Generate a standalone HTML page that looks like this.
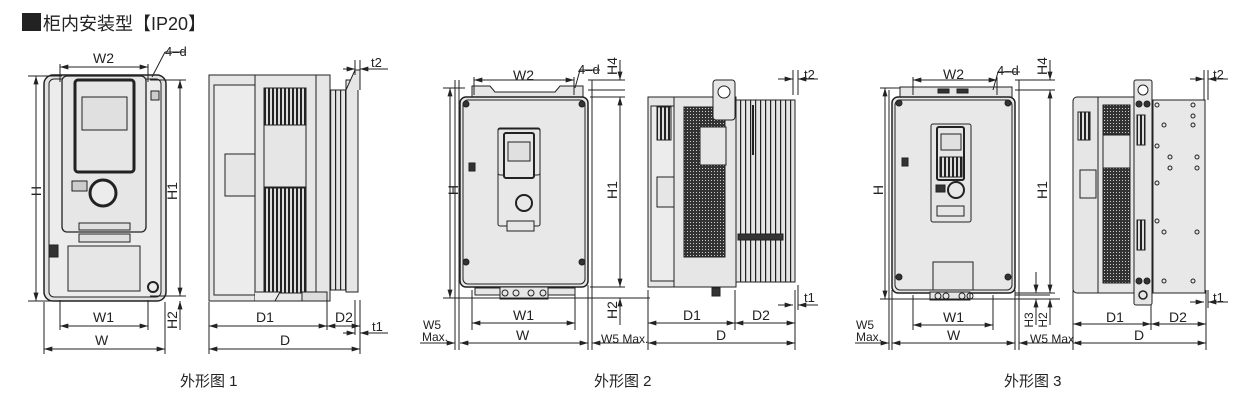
<!DOCTYPE html>
<html><head><meta charset="utf-8"><style>
html,body{margin:0;padding:0;background:#fff;width:1241px;height:406px;overflow:hidden}
svg{display:block}
text{font-family:"Liberation Sans","Noto Sans CJK SC",sans-serif;fill:#222}
</style></head><body>
<svg width="1241" height="406" viewBox="0 0 1241 406" xmlns="http://www.w3.org/2000/svg">
<defs>
<marker id="a" viewBox="0 0 10 6" refX="10" refY="3" markerWidth="9" markerHeight="5" orient="auto-start-reverse" markerUnits="userSpaceOnUse"><path d="M0,0L10,3L0,6z" fill="#222"/></marker>
<pattern id="g1" width="4" height="4" patternUnits="userSpaceOnUse"><rect width="4" height="4" fill="#ddd"/><rect width="2" height="4" fill="#222"/></pattern>
<pattern id="g2" width="3" height="3" patternUnits="userSpaceOnUse"><rect width="3" height="3" fill="#333"/><rect width="1" height="1" fill="#ccc"/></pattern>
<pattern id="fin" width="5" height="5" patternUnits="userSpaceOnUse"><rect width="5" height="5" fill="#e6e6e6"/><rect width="1.2" height="5" fill="#222"/></pattern>
</defs>
<g stroke="#222" stroke-width="1" fill="none">
<!-- ===== Fig1 front ===== -->
<rect x="44" y="75" width="122" height="226" rx="9" fill="#e3e3e3" stroke-width="1.5"/>
<rect x="49" y="79" width="112" height="218" rx="5" fill="#ececec"/>
<rect x="62" y="76" width="84" height="156" rx="5" fill="#e6e6e6" stroke-width="1.3"/>
<rect x="75" y="80" width="59" height="92" rx="3" fill="#e6e6e6" stroke-width="3"/>
<rect x="82" y="97" width="45" height="33" fill="#e0e0e0"/>
<circle cx="103" cy="193" r="13" stroke-width="3" fill="#ececec"/>
<rect x="72" y="181" width="15" height="10" fill="#ccc"/>
<rect x="79" y="223" width="51" height="7" fill="#e0e0e0"/>
<rect x="79" y="234" width="51" height="8" fill="#e0e0e0"/>
<rect x="68" y="246" width="72" height="45" fill="#e6e6e6"/>
<rect x="151" y="91" width="8" height="9" fill="#ccc"/>
<rect x="49" y="245" width="9" height="12" fill="#333"/>
<circle cx="153" cy="287" r="5" stroke-width="2"/>
<!-- fig1 dims -->
<line x1="60" y1="64" x2="60" y2="82"/><line x1="148" y1="64" x2="148" y2="82"/>
<line x1="60" y1="67" x2="148" y2="67" marker-start="url(#a)" marker-end="url(#a)"/>
<line x1="28" y1="76" x2="62" y2="76"/><line x1="28" y1="301" x2="62" y2="301"/>
<line x1="36" y1="76" x2="36" y2="301" marker-start="url(#a)" marker-end="url(#a)"/>
<line x1="150" y1="80" x2="186" y2="80"/><line x1="150" y1="296" x2="186" y2="296"/>
<line x1="180" y1="80" x2="180" y2="296" marker-start="url(#a)" marker-end="url(#a)"/>
<line x1="180" y1="301" x2="180" y2="330"/><line x1="180" y1="318" x2="180" y2="301" marker-end="url(#a)"/>
<line x1="60" y1="300" x2="60" y2="330"/><line x1="148" y1="300" x2="148" y2="330"/>
<line x1="60" y1="326" x2="148" y2="326" marker-start="url(#a)" marker-end="url(#a)"/>
<line x1="44" y1="302" x2="44" y2="354"/><line x1="165" y1="302" x2="165" y2="354"/>
<line x1="44" y1="349" x2="165" y2="349" marker-start="url(#a)" marker-end="url(#a)"/>
<line x1="152" y1="77" x2="165" y2="52"/><line x1="165" y1="52" x2="185" y2="52"/>
<!-- ===== Fig1 side ===== -->
<rect x="209" y="75" width="48" height="226" fill="#e6e6e6"/>
<rect x="214" y="85" width="43" height="210" fill="#ececec"/>
<rect x="255" y="75" width="62" height="226" fill="#e6e6e6"/>
<rect x="264" y="88" width="42" height="150" fill="url(#g1)"/>
<rect x="264" y="188" width="42" height="105" fill="url(#g1)"/>
<rect x="264" y="125" width="42" height="62" fill="#e6e6e6"/>
<rect x="225" y="154" width="30" height="42" fill="#e6e6e6"/>
<rect x="316" y="75" width="14" height="226" fill="#e6e6e6"/>
<rect x="330" y="90" width="18" height="200" fill="url(#fin)"/>
<rect x="346" y="80" width="12" height="212" fill="#e6e6e6"/>
<path d="M346,90 L355,70 L360,70 L360,90" fill="#e6e6e6"/>
<path d="M255,292 L280,292 L275,301 L255,301" fill="#ececec"/>
<rect x="302" y="292" width="25" height="9" fill="#ddd"/>
<line x1="209" y1="302" x2="209" y2="354"/><line x1="327" y1="300" x2="327" y2="330"/><line x1="360" y1="300" x2="360" y2="354"/>
<line x1="209" y1="326" x2="327" y2="326" marker-start="url(#a)" marker-end="url(#a)"/>
<line x1="327" y1="326" x2="360" y2="326" marker-start="url(#a)" marker-end="url(#a)"/>
<line x1="209" y1="349" x2="360" y2="349" marker-start="url(#a)" marker-end="url(#a)"/>
<line x1="355" y1="60" x2="355" y2="75"/><line x1="360" y1="60" x2="360" y2="75"/>
<line x1="343" y1="69" x2="355" y2="69" marker-end="url(#a)"/><line x1="388" y1="69" x2="360" y2="69" marker-end="url(#a)"/>
<line x1="355" y1="300" x2="355" y2="335"/><line x1="360" y1="300" x2="360" y2="335"/>
<line x1="343" y1="333" x2="355" y2="333" marker-end="url(#a)"/><line x1="388" y1="333" x2="360" y2="333" marker-end="url(#a)"/>

<!-- ===== Fig2 front ===== -->
<path d="M472,97 L472,86 L490,86 L495,92 L555,92 L560,86 L583,86 L583,97" fill="#e6e6e6"/>
<rect x="460" y="97" width="128" height="190" rx="6" fill="#e6e6e6" stroke-width="1.5"/>
<rect x="463" y="100" width="122" height="184" rx="5" fill="#e8e8e8"/>
<circle cx="466" cy="104" r="3" fill="#333"/><circle cx="582" cy="104" r="3" fill="#333"/>
<circle cx="466" cy="262" r="3" fill="#333"/><circle cx="582" cy="262" r="3" fill="#333"/>
<rect x="498" y="129" width="42" height="46" rx="2" fill="#e6e6e6"/>
<rect x="504" y="133" width="30" height="45" rx="2" fill="#e6e6e6" stroke-width="2"/>
<rect x="508" y="142" width="22" height="19" fill="#e0e0e0"/>
<circle cx="524" cy="203" r="8" stroke-width="2"/>
<rect x="498" y="128" width="42" height="98" rx="2"/>
<rect x="507" y="221" width="27" height="10" fill="#e6e6e6"/>
<rect x="469" y="163" width="6" height="8" fill="#333"/>
<rect x="475" y="288" width="100" height="7" fill="#e6e6e6"/>
<rect x="500" y="287" width="48" height="12" fill="#e6e6e6"/>
<circle cx="505" cy="293" r="3"/><circle cx="516" cy="293" r="3"/><circle cx="531" cy="293" r="3"/><circle cx="543" cy="293" r="3"/>
<!-- fig2 dims -->
<line x1="474" y1="77" x2="474" y2="95"/><line x1="574" y1="77" x2="574" y2="95"/>
<line x1="474" y1="80" x2="574" y2="80" marker-start="url(#a)" marker-end="url(#a)"/>
<line x1="575" y1="88" x2="580" y2="70"/><line x1="580" y1="70" x2="600" y2="70"/>
<line x1="443" y1="88" x2="465" y2="88"/><line x1="443" y1="298" x2="650" y2="298"/>
<line x1="450" y1="88" x2="450" y2="298" marker-start="url(#a)" marker-end="url(#a)"/>
<line x1="588" y1="80" x2="625" y2="80"/><line x1="588" y1="90" x2="625" y2="90"/><line x1="590" y1="97" x2="625" y2="97"/><line x1="590" y1="287" x2="625" y2="287"/>
<line x1="620" y1="60" x2="620" y2="80" marker-end="url(#a)"/>
<line x1="620" y1="97" x2="620" y2="287" marker-start="url(#a)" marker-end="url(#a)"/>
<line x1="620" y1="325" x2="620" y2="298" marker-end="url(#a)"/>
<line x1="459" y1="80" x2="459" y2="350"/><line x1="455" y1="80" x2="455" y2="350"/>
<line x1="472" y1="290" x2="472" y2="330"/><line x1="575" y1="290" x2="575" y2="330"/>
<line x1="472" y1="323" x2="575" y2="323" marker-start="url(#a)" marker-end="url(#a)"/>
<line x1="588" y1="285" x2="588" y2="350"/><line x1="592" y1="80" x2="592" y2="350"/>
<line x1="460" y1="343" x2="588" y2="343" marker-start="url(#a)" marker-end="url(#a)"/>
<line x1="420" y1="343" x2="455" y2="343" marker-end="url(#a)"/>
<line x1="640" y1="343" x2="592" y2="343" marker-end="url(#a)"/>
<line x1="648" y1="290" x2="648" y2="350"/><line x1="735" y1="290" x2="735" y2="330"/><line x1="795" y1="290" x2="795" y2="350"/>
<line x1="648" y1="323" x2="735" y2="323" marker-start="url(#a)" marker-end="url(#a)"/>
<line x1="735" y1="323" x2="795" y2="323" marker-start="url(#a)" marker-end="url(#a)"/>
<line x1="648" y1="343" x2="795" y2="343" marker-start="url(#a)" marker-end="url(#a)"/>
<line x1="793" y1="70" x2="793" y2="95"/><line x1="798" y1="70" x2="798" y2="95"/>
<line x1="778" y1="79" x2="793" y2="79" marker-end="url(#a)"/><line x1="818" y1="79" x2="798" y2="79" marker-end="url(#a)"/>
<line x1="778" y1="305" x2="793" y2="305" marker-end="url(#a)"/><line x1="818" y1="305" x2="798" y2="305" marker-end="url(#a)"/>
<line x1="798" y1="285" x2="798" y2="310"/>
<!-- ===== Fig2 side ===== -->
<rect x="648" y="97" width="30" height="190" fill="#e6e6e6"/>
<rect x="651" y="106" width="25" height="175" fill="#ececec"/>
<rect x="657" y="107" width="14" height="33" fill="url(#g1)"/>
<rect x="657" y="177" width="18" height="30" fill="#e6e6e6"/>
<rect x="674" y="97" width="62" height="190" fill="#e6e6e6"/>
<rect x="684" y="107" width="41" height="150" fill="url(#g2)"/>
<rect x="700" y="127" width="26" height="38" fill="#e6e6e6"/>
<rect x="713" y="80" width="22" height="40" rx="3" fill="#e6e6e6"/>
<circle cx="724" cy="92" r="6" fill="#fff"/>
<rect x="736" y="100" width="59" height="182" fill="url(#fin)"/>
<rect x="738" y="234" width="45" height="6" fill="#333"/>
<line x1="753" y1="105" x2="753" y2="155" stroke-width="2"/>
<rect x="712" y="288" width="8" height="8" fill="#333"/>
<!-- ===== Fig3 front ===== -->
<path d="M900,97 L900,87 L1012,87 L1012,97" fill="#e6e6e6"/>
<rect x="938" y="89" width="11" height="4" fill="#333"/><rect x="957" y="89" width="11" height="4" fill="#333"/>
<rect x="892" y="97" width="123" height="196" rx="6" fill="#e6e6e6" stroke-width="1.5"/>
<rect x="895" y="100" width="117" height="190" rx="5" fill="#e8e8e8"/>
<circle cx="899" cy="103" r="3" fill="#333"/><circle cx="1008" cy="103" r="3" fill="#333"/>
<circle cx="899" cy="277" r="3" fill="#333"/><circle cx="1008" cy="277" r="3" fill="#333"/>
<rect x="931" y="124" width="40" height="98" rx="2" fill="#e6e6e6"/>
<rect x="937" y="127" width="27" height="53" rx="2" fill="#e6e6e6" stroke-width="2"/>
<rect x="941" y="134" width="20" height="16" fill="#e0e0e0"/>
<rect x="940" y="157" width="22" height="20" fill="url(#g1)"/>
<circle cx="956" cy="190" r="8" stroke-width="2"/>
<rect x="936" y="185" width="9" height="7" fill="#333"/>
<rect x="937" y="206" width="27" height="10" fill="#e6e6e6"/>
<rect x="902" y="158" width="6" height="8" fill="#333"/>
<rect x="933" y="262" width="40" height="28" fill="#e6e6e6"/>
<rect x="930" y="292" width="40" height="8" fill="#e6e6e6"/>
<circle cx="938" cy="296" r="3"/><circle cx="946" cy="296" r="3"/><circle cx="962" cy="296" r="3"/><circle cx="970" cy="296" r="3"/>
<!-- fig3 dims -->
<line x1="913" y1="77" x2="913" y2="95"/><line x1="997" y1="77" x2="997" y2="95"/>
<line x1="913" y1="80" x2="997" y2="80" marker-start="url(#a)" marker-end="url(#a)"/>
<line x1="993" y1="90" x2="998" y2="72"/><line x1="998" y1="72" x2="1020" y2="72"/>
<line x1="880" y1="88" x2="900" y2="88"/><line x1="880" y1="299" x2="1060" y2="299"/>
<line x1="885" y1="88" x2="885" y2="299" marker-start="url(#a)" marker-end="url(#a)"/>
<line x1="1015" y1="80" x2="1055" y2="80"/><line x1="1015" y1="90" x2="1055" y2="90"/><line x1="1015" y1="293" x2="1055" y2="293"/>
<line x1="1050" y1="60" x2="1050" y2="80" marker-end="url(#a)"/>
<line x1="1050" y1="90" x2="1050" y2="293" marker-start="url(#a)" marker-end="url(#a)"/>
<line x1="1050" y1="325" x2="1050" y2="299" marker-end="url(#a)"/>
<line x1="1036" y1="272" x2="1036" y2="293" marker-end="url(#a)"/>
<line x1="1036" y1="325" x2="1036" y2="299" marker-end="url(#a)"/>
<line x1="1015" y1="295" x2="1050" y2="295"/>
<line x1="889" y1="90" x2="889" y2="350"/><line x1="892" y1="290" x2="892" y2="350"/>
<line x1="913" y1="295" x2="913" y2="330"/><line x1="993" y1="295" x2="993" y2="330"/>
<line x1="913" y1="325" x2="993" y2="325" marker-start="url(#a)" marker-end="url(#a)"/>
<line x1="1015" y1="290" x2="1015" y2="350"/><line x1="1019" y1="80" x2="1019" y2="350"/>
<line x1="892" y1="343" x2="1015" y2="343" marker-start="url(#a)" marker-end="url(#a)"/>
<line x1="855" y1="343" x2="889" y2="343" marker-end="url(#a)"/>
<line x1="1070" y1="343" x2="1019" y2="343" marker-end="url(#a)"/>
<line x1="1073" y1="290" x2="1073" y2="350"/><line x1="1151" y1="290" x2="1151" y2="330"/><line x1="1206" y1="290" x2="1206" y2="350"/>
<line x1="1073" y1="324" x2="1151" y2="324" marker-start="url(#a)" marker-end="url(#a)"/>
<line x1="1151" y1="324" x2="1206" y2="324" marker-start="url(#a)" marker-end="url(#a)"/>
<line x1="1073" y1="343" x2="1206" y2="343" marker-start="url(#a)" marker-end="url(#a)"/>
<line x1="1204" y1="70" x2="1204" y2="100"/><line x1="1208" y1="70" x2="1208" y2="100"/>
<line x1="1190" y1="79" x2="1204" y2="79" marker-end="url(#a)"/><line x1="1228" y1="79" x2="1208" y2="79" marker-end="url(#a)"/>
<line x1="1190" y1="302" x2="1204" y2="302" marker-end="url(#a)"/><line x1="1228" y1="302" x2="1208" y2="302" marker-end="url(#a)"/>
<line x1="1208" y1="290" x2="1208" y2="308"/>
<!-- ===== Fig3 side ===== -->
<rect x="1073" y="97" width="28" height="196" rx="4" fill="#e6e6e6"/>
<rect x="1078" y="112" width="12" height="28" fill="url(#g1)"/>
<rect x="1080" y="170" width="16" height="28" fill="#e6e6e6"/>
<rect x="1098" y="97" width="37" height="196" fill="#e6e6e6"/>
<rect x="1103" y="105" width="27" height="178" fill="url(#g2)"/>
<rect x="1103" y="135" width="27" height="33" fill="#e6e6e6"/>
<rect x="1134" y="80" width="18" height="225" rx="2" fill="#e6e6e6"/>
<circle cx="1143" cy="90" r="5" fill="#fff"/>
<circle cx="1139" cy="104" r="3" fill="#333"/><circle cx="1147" cy="104" r="3" fill="#333"/>
<circle cx="1139" cy="281" r="3" fill="#333"/><circle cx="1147" cy="281" r="3" fill="#333"/>
<circle cx="1143" cy="295" r="4" stroke-width="1.5"/>
<rect x="1137" y="115" width="8" height="30" fill="url(#g1)"/>
<rect x="1137" y="220" width="8" height="30" fill="url(#g1)"/>
<rect x="1153" y="100" width="52" height="193" fill="#e8e8e8"/>
<g fill="#e8e8e8" stroke-width="1">
<circle cx="1157" cy="105" r="2"/><circle cx="1193" cy="105" r="2"/><circle cx="1193" cy="116" r="2"/>
<circle cx="1164" cy="125" r="2"/><circle cx="1193" cy="125" r="2"/><circle cx="1157" cy="146" r="2"/>
<circle cx="1170" cy="157" r="2"/><circle cx="1197" cy="157" r="2"/><circle cx="1170" cy="168" r="2"/><circle cx="1197" cy="168" r="2"/>
<circle cx="1157" cy="183" r="2"/><circle cx="1157" cy="221" r="2"/><circle cx="1164" cy="232" r="2"/><circle cx="1197" cy="232" r="2"/>
<circle cx="1164" cy="281" r="2"/><circle cx="1193" cy="281" r="2"/>
</g>
</g>
<!-- labels -->
<rect x="22" y="13" width="19" height="18" fill="#222"/>
<text x="43" y="30" font-size="18">柜内安装型【IP20】</text>
<g font-size="14">
<text x="93" y="63">W2</text><text x="165" y="56" font-size="13">4–d</text>
<text x="93" y="322">W1</text><text x="95" y="345">W</text>
<text x="256" y="322">D1</text><text x="335" y="322">D2</text><text x="280" y="345">D</text>
<text x="371" y="67" font-size="13">t2</text><text x="372" y="331" font-size="13">t1</text>
<text transform="translate(41,191) rotate(-90)" text-anchor="middle">H</text>
<text transform="translate(177,191) rotate(-90)" text-anchor="middle">H1</text>
<text transform="translate(177,320) rotate(-90)" text-anchor="middle">H2</text>

<text x="513" y="80">W2</text><text x="578" y="74" font-size="13">4–d</text>
<text x="513" y="320">W1</text><text x="516" y="340">W</text>
<text x="683" y="320">D1</text><text x="752" y="320">D2</text><text x="716" y="340">D</text>
<text x="804" y="79" font-size="13">t2</text><text x="804" y="302" font-size="13">t1</text>
<text x="423" y="329" font-size="12">W5</text><text x="422" y="341" font-size="12">Max.</text>
<text x="601" y="343" font-size="12">W5 Max.</text>
<text transform="translate(458,190) rotate(-90)" text-anchor="middle">H</text>
<text transform="translate(617,190) rotate(-90)" text-anchor="middle">H1</text>
<text transform="translate(617,66) rotate(-90)" text-anchor="middle">H4</text>
<text transform="translate(617,310) rotate(-90)" text-anchor="middle">H2</text>

<text x="943" y="79">W2</text><text x="997" y="75" font-size="13">4–d</text>
<text x="943" y="322">W1</text><text x="947" y="340">W</text>
<text x="1106" y="322">D1</text><text x="1169" y="322">D2</text><text x="1134" y="340">D</text>
<text x="1213" y="79" font-size="13">t2</text><text x="1213" y="302" font-size="13">t1</text>
<text x="856" y="329" font-size="12">W5</text><text x="856" y="341" font-size="12">Max.</text>
<text x="1030" y="343" font-size="12">W5 Max.</text>
<text transform="translate(883,190) rotate(-90)" text-anchor="middle">H</text>
<text transform="translate(1047,190) rotate(-90)" text-anchor="middle">H1</text>
<text transform="translate(1047,66) rotate(-90)" text-anchor="middle">H4</text>
<text transform="translate(1047,320) rotate(-90)" text-anchor="middle" font-size="12">H2</text>
<text transform="translate(1033,320) rotate(-90)" text-anchor="middle" font-size="12">H3</text>
</g>
<g font-size="15">
<text x="180" y="386">外形图 1</text>
<text x="594" y="386">外形图 2</text>
<text x="1004" y="386">外形图 3</text>
</g>
</svg>
</body></html>
